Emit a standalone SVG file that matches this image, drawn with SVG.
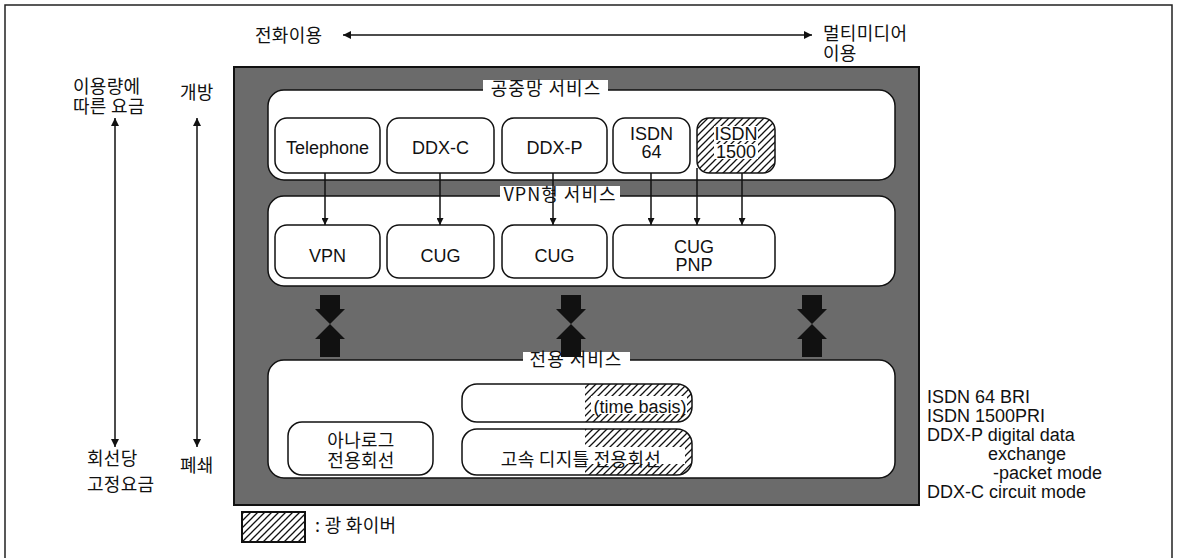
<svg xmlns="http://www.w3.org/2000/svg" width="1179" height="558" viewBox="0 0 1179 558">
<style>
.kr{font-family:"Noto Sans CJK KR","Liberation Sans",sans-serif;font-size:18px;fill:#111;letter-spacing:0.3px}
.en{font-family:"Liberation Sans",Arial,sans-serif;font-size:18px;fill:#111}
.node{fill:#fff;stroke:#111;stroke-width:1.5}
.outline{fill:none;stroke:#111;stroke-width:1.5}
.panel{fill:#fff;stroke:#111;stroke-width:1.5}
.ln{stroke:#111;stroke-width:1.5;fill:none}
.big{fill:#111}
</style>
<defs>
<pattern id="hatch" patternUnits="userSpaceOnUse" width="7" height="7">
<path d="M-1,8 L8,-1 M-2,2 L2,-2 M5,9 L9,5" stroke="#111" stroke-width="1.3"/>
</pattern>
<marker id="ah" viewBox="0 0 10 10" refX="10" refY="5" markerWidth="9" markerHeight="7" markerUnits="userSpaceOnUse" orient="auto-start-reverse">
<path d="M0,0 L10,5 L0,10 z" fill="#111"/>
</marker>
<marker id="ahL" viewBox="0 0 10 10" refX="10" refY="5" markerWidth="15" markerHeight="8" markerUnits="userSpaceOnUse" orient="auto-start-reverse">
<path d="M0,0 L10,5 L0,10 z" fill="#111"/>
</marker>
<clipPath id="cTB"><rect x="462" y="384" width="230" height="38" rx="15"/></clipPath>
<clipPath id="cHS"><rect x="462" y="429" width="230" height="46" rx="15"/></clipPath>
<clipPath id="cI15"><rect x="697" y="118" width="78" height="55" rx="12"/></clipPath>
</defs>

<!-- outer frame -->
<path d="M5,560 V5 H1172 V560" fill="none" stroke="#222" stroke-width="1.5"/>

<!-- top axis -->
<g id="axis-top">
<text class="kr" x="255" y="42">전화이용</text>
<text class="kr" x="823" y="40">멀티미디어<tspan x="823" dy="20">이용</tspan></text>
</g>

<!-- left axes -->
<g id="axis-left">
<text class="kr" x="73" y="93">이용량에<tspan x="73" dy="20">따른 요금</tspan></text>
<text class="kr" x="180" y="99">개방</text>
<text class="kr" x="87" y="465">회선당<tspan x="87" dy="26">고정요금</tspan></text>
<text class="kr" x="180" y="472">폐쇄</text>
</g>

<!-- gray background panel -->
<rect id="backdrop" x="234" y="67" width="685" height="438" fill="#6b6b6b" stroke="#111" stroke-width="2"/>

<!-- panels -->
<g id="panel-public">
<rect class="panel" x="268" y="90" width="627" height="90" rx="16"/>
<rect x="483" y="80" width="125" height="17" fill="#fff"/>
<text class="kr" x="546" y="95" text-anchor="middle" style="letter-spacing:1px">공중망  서비스</text>
</g>
<g id="panel-vpn">
<rect class="panel" x="268" y="196" width="627" height="90" rx="16"/>
<rect x="500" y="186" width="120" height="17" fill="#fff"/>
<text class="kr" x="560" y="201" text-anchor="middle" style="letter-spacing:1px">VPN형  서비스</text>
</g>
<g id="panel-leased">
<rect class="panel" x="268" y="360" width="627" height="118" rx="16"/>
<rect x="523" y="352" width="107" height="16" fill="#fff"/>
<text class="kr" x="576" y="366" text-anchor="middle" style="letter-spacing:1px">전용  서비스</text>
</g>

<!-- row 1 nodes -->
<g id="n-telephone"><rect class="node" x="275" y="118" width="105" height="55" rx="12"/><text class="en" x="327.5" y="154" text-anchor="middle">Telephone</text></g>
<g id="n-ddxc"><rect class="node" x="387" y="118" width="107" height="55" rx="12"/><text class="en" x="440.5" y="154" text-anchor="middle">DDX-C</text></g>
<g id="n-ddxp"><rect class="node" x="502" y="118" width="105" height="55" rx="12"/><text class="en" x="554.5" y="154" text-anchor="middle">DDX-P</text></g>
<g id="n-isdn64"><rect class="node" x="613" y="118" width="77" height="55" rx="12"/><text class="en" x="651.5" y="140" text-anchor="middle">ISDN<tspan x="651.5" dy="18">64</tspan></text></g>
<g id="n-isdn1500">
<rect x="697" y="118" width="78" height="55" rx="12" fill="#fff"/>
<rect x="697" y="118" width="78" height="55" fill="url(#hatch)" clip-path="url(#cI15)"/>
<rect x="714" y="126" width="44" height="15" fill="#fff"/>
<rect x="714" y="144" width="44" height="15" fill="#fff"/>
<rect class="outline" x="697" y="118" width="78" height="55" rx="12"/>
<text class="en" x="736" y="140" text-anchor="middle">ISDN<tspan x="736" dy="18">1500</tspan></text>
</g>

<!-- row 2 nodes -->
<g id="n-vpn"><rect class="node" x="275" y="225" width="105" height="53" rx="12"/><text class="en" x="327.5" y="262" text-anchor="middle">VPN</text></g>
<g id="n-cug1"><rect class="node" x="387" y="225" width="107" height="53" rx="12"/><text class="en" x="440.5" y="262" text-anchor="middle">CUG</text></g>
<g id="n-cug2"><rect class="node" x="502" y="225" width="105" height="53" rx="12"/><text class="en" x="554.5" y="262" text-anchor="middle">CUG</text></g>
<g id="n-cugpnp"><rect class="node" x="613" y="225" width="162" height="53" rx="12"/><text class="en" x="694" y="253" text-anchor="middle">CUG<tspan x="694" dy="18">PNP</tspan></text></g>

<!-- leased nodes -->
<g id="n-analog"><rect class="node" x="288" y="422" width="145" height="53" rx="14"/><text class="kr" x="361" y="447" text-anchor="middle">아나로그<tspan x="361" dy="20">전용회선</tspan></text></g>
<g id="n-timebasis">
<rect x="462" y="384" width="230" height="38" rx="15" fill="#fff"/>
<rect x="585" y="384" width="107" height="38" fill="url(#hatch)" clip-path="url(#cTB)"/>
<rect x="591" y="396" width="96" height="18" fill="#fff"/>
<rect class="outline" x="462" y="384" width="230" height="38" rx="15"/>
<text class="en" x="640" y="413" text-anchor="middle">(time basis)</text>
</g>
<g id="n-highspeed">
<rect x="462" y="429" width="230" height="46" rx="15" fill="#fff"/>
<rect x="585" y="429" width="107" height="46" fill="url(#hatch)" clip-path="url(#cHS)"/>
<rect x="585" y="447" width="100" height="17" fill="#fff"/>
<rect class="outline" x="462" y="429" width="230" height="46" rx="15"/>
<text class="kr" x="581" y="466" text-anchor="middle">고속  디지틀  전용회선</text>
</g>

<!-- connectors -->
<g id="connectors">
<line class="ln" x1="343" y1="35" x2="812" y2="35" marker-start="url(#ahL)" marker-end="url(#ahL)"/>
<line class="ln" x1="115" y1="118" x2="115" y2="447" marker-start="url(#ahL)" marker-end="url(#ahL)"/>
<line class="ln" x1="197" y1="118" x2="197" y2="447" marker-start="url(#ahL)" marker-end="url(#ahL)"/>
<line class="ln" x1="325" y1="173" x2="325" y2="225" marker-end="url(#ah)"/>
<line class="ln" x1="440" y1="173" x2="440" y2="225" marker-end="url(#ah)"/>
<line class="ln" x1="553" y1="173" x2="553" y2="225" marker-end="url(#ah)"/>
<line class="ln" x1="651" y1="173" x2="651" y2="225" marker-end="url(#ah)"/>
<line class="ln" x1="697" y1="168" x2="697" y2="225" marker-end="url(#ah)"/>
<line class="ln" x1="742" y1="173" x2="742" y2="225" marker-end="url(#ah)"/>
<path class="big" d="M320,295 H340 V309 H345 L330,324 L315,309 H320 Z M330,324 L345,339 H340 V357 H320 V339 H315 Z"/>
<path class="big" d="M561,295 H581 V309 H586 L571,324 L556,309 H561 Z M571,324 L586,339 H581 V357 H561 V339 H556 Z"/>
<path class="big" d="M802,295 H822 V309 H827 L812,324 L797,309 H802 Z M812,324 L827,339 H822 V357 H802 V339 H797 Z"/>
</g>

<!-- right notes -->
<g id="notes">
<text class="en" x="927" y="403">ISDN 64 BRI<tspan x="927" dy="19">ISDN 1500PRI</tspan><tspan x="927" dy="19">DDX-P digital data</tspan><tspan x="988" dy="19">exchange</tspan><tspan x="993" dy="19">-packet mode</tspan><tspan x="927" dy="19">DDX-C circuit mode</tspan></text>
</g>

<!-- legend -->
<g id="legend">
<rect x="242" y="512" width="63" height="30" fill="url(#hatch)" stroke="#111" stroke-width="2"/>
<text class="kr" x="315" y="532">:  광 화이버</text>
</g>
</svg>
